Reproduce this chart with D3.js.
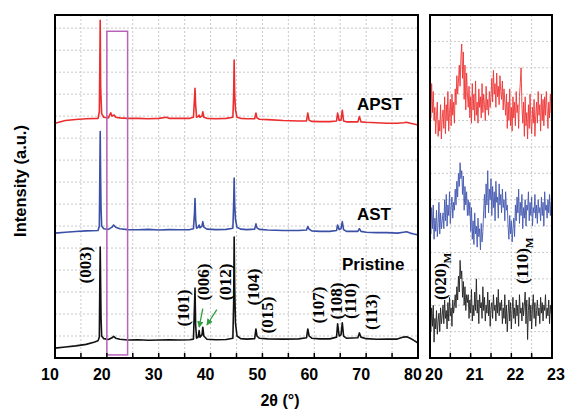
<!DOCTYPE html>
<html>
<head>
<meta charset="utf-8">
<script src="https://cdn.jsdelivr.net/npm/d3@7"></script>
<style>
  body { margin: 0; background: #fff; }
  svg { display: block; }
</style>
</head>
<body>
<div id="chart"></div>
<script>
// XRD patterns, [2theta, intensity (a.u.)]
const pristine = [[10,0.45],[12,0.5],[14,0.55],[16,0.62],[17.5,0.72],[18.3,0.78],[18.55,0.95],[18.65,3.6],[18.72,5.05],[18.8,3.4],[18.88,1.8],[19,1.0],[19.4,0.88],[20.3,0.84],[21,0.92],[21.3,0.98],[21.7,0.9],[22.5,0.85],[24,0.82],[26,0.83],[28,0.81],[30,0.82],[32,0.83],[34,0.82],[36,0.83],[36.7,0.86],[36.9,2.4],[37,3.18],[37.12,1.5],[37.3,0.9],[37.6,0.95],[37.8,1.25],[37.95,0.95],[38.35,1.05],[38.5,1.4],[38.7,1.0],[39.3,0.85],[41,0.83],[43,0.84],[44.3,0.9],[44.45,2.5],[44.55,5.5],[44.65,3.2],[44.8,1.6],[45.1,1.0],[45.8,0.88],[47,0.86],[48.5,0.88],[48.75,1.32],[48.95,1.0],[49.4,0.9],[51,0.87],[54,0.86],[57,0.87],[58.5,0.92],[58.75,1.32],[59,1.0],[59.5,0.9],[61,0.87],[63,0.87],[64.3,0.95],[64.5,1.55],[64.8,1.0],[65.15,1.05],[65.4,1.6],[65.65,1.0],[66.2,0.9],[68.4,0.92],[68.7,1.14],[69,0.95],[70,0.88],[72,0.85],[74,0.86],[76,0.86],[77.2,0.95],[77.8,0.97],[78.5,0.9],[79.2,0.8],[80,0.68]];
const ast = [[10,5.68],[12,5.72],[14,5.75],[16,5.78],[18.3,5.8],[18.55,6.0],[18.65,8.5],[18.72,10.3],[18.8,8.2],[18.88,6.8],[19,6.0],[19.4,5.88],[20.3,5.85],[21,5.95],[21.3,6.05],[21.7,5.95],[22.5,5.88],[24,5.84],[26,5.83],[28,5.85],[30,5.82],[32,5.84],[34,5.83],[36,5.84],[36.7,5.88],[36.9,6.6],[37,7.25],[37.12,6.3],[37.3,5.9],[37.6,5.95],[37.8,6.05],[37.95,5.92],[38.35,6.0],[38.5,6.2],[38.7,5.95],[39.3,5.86],[41,5.84],[43,5.85],[44.3,5.9],[44.45,7.0],[44.55,8.18],[44.65,7.0],[44.8,6.3],[45.1,5.95],[45.8,5.86],[47,5.84],[48.5,5.86],[48.75,6.1],[48.95,5.92],[49.4,5.85],[51,5.82],[54,5.8],[57,5.8],[58.5,5.82],[58.75,5.98],[59,5.86],[59.5,5.78],[61,5.76],[63,5.76],[64.3,5.8],[64.5,6.05],[64.8,5.84],[65.15,5.88],[65.4,6.2],[65.65,5.84],[66.2,5.76],[68.4,5.76],[68.7,5.88],[69,5.76],[70,5.72],[72,5.7],[74,5.7],[76,5.68],[77.2,5.72],[77.8,5.74],[78.5,5.68],[79.2,5.64],[80,5.6]];
const apst = [[10,10.68],[12,10.8],[14,10.85],[16,10.88],[18.3,10.9],[18.55,11.2],[18.65,13.5],[18.72,15.36],[18.8,12.4],[18.88,11.8],[19,11.1],[19.4,10.95],[20.3,10.92],[20.75,11.15],[21,11.0],[21.4,11.05],[21.7,10.95],[22.5,10.92],[24,10.9],[26,10.9],[28,10.88],[30,10.9],[31.5,10.95],[32,10.9],[34,10.9],[36,10.9],[36.7,10.95],[36.9,11.8],[37,12.27],[37.12,11.5],[37.3,10.95],[37.6,10.98],[37.8,11.05],[37.95,10.95],[38.35,11.0],[38.5,11.2],[38.7,10.95],[39.3,10.9],[41,10.88],[43,10.9],[44.3,10.95],[44.45,12.0],[44.55,13.55],[44.65,12.0],[44.8,11.3],[45.1,10.95],[45.8,10.9],[47,10.88],[48.5,10.88],[48.75,11.14],[48.95,10.92],[49.4,10.86],[51,10.84],[54,10.8],[57,10.78],[58.5,10.78],[58.75,11.14],[59,10.82],[59.5,10.76],[61,10.75],[63,10.75],[64.3,10.78],[64.5,11.14],[64.8,10.8],[65.15,10.82],[65.4,11.27],[65.65,10.78],[66.2,10.74],[68.4,10.74],[68.7,10.98],[69,10.74],[70,10.72],[72,10.7],[74,10.68],[76,10.68],[77.2,10.7],[77.8,10.72],[78.5,10.68],[79.2,10.64],[80,10.6]];

// zoomed region 20-23 deg, one value every 0.02 deg
const zoomStart = 20, zoomStep = 0.02;
const apstZoom = [99,91,104,93,101,90, 95,85,92,97,84,90,86,96,83,91,
  94,87,99,85,96,90,101,86,93,98,88,100,92,97,89, 102,96,107,100,105,111,103,114,119, 106,116,98,111,94,108,100,95,
  103,91,99,89,104,94,100,90,105,92,97,89,102,95,99,91,104,93,100,96,90,103,94,98,92,101,95,99,
  106,97,109,100,104,95,108,99,103,96,107,101,98,105,94,102,97,
  92,100,87,97,90,102,88,95,86,99,91,97,88,101,93,96,87,99, 104,110,96,
  89,97,84,99,88,93,83,96,87,100,90,85,95,89,98,84,92,
  97,89,101,92,96,86,100,90,98,88,99,92,101,94,87,97,91,100,93,96];
const astZoom = [54,47,57,49,58,45,53,48,56,46,51,59,47,55,49,52,
  55,49,60,52,62,50,58,54,63,51,57,61,53,59,56, 64,58,67,61,70,65,74,68,71, 62,69,56,65,58,63,54,60,
  54,59,48,57,45,52,43,55,47,50,42,53,46,49,41,51,44,48,
  56,62,53,66,58,71,55,64,60,68,54,65,57,63,52,67,59,61,53,66,58,62,55,64,57,60,52,63,56,58,
  50,45,54,47,52,44,49,53,46,
  58,52,61,55,64,51,59,54,62,49,57,53,60,50,58,56,63,52,59,54,61,50,57,55,62,53,58,51,60,55,
  57,52,61,54,59,50,63,56,58,53,60,55,62,54,59,57];
const pristineZoom = [16,10,19,12,20,6,15,11,18,9,14,17,10,19,13,16,
  20,13,22,15,18,11,21,14,23,16,19,12,22,17,20, 24,19,27,22,31,25,37,30, 33,23,29,20,27,18,24,21,
  24,15,22,17,26,14,20,16,25,18, 30,17,22,13,24,19,21,15,27,18, 23,14,20,17,25,16,22,12,19,21,
  15,24,18,20,14,23,17,26,16,21, 18,22,13,19,15,24,13,20,10,17, 22,14,21,11,18,23,15,19,13,22,
  16,20,12,24,17,19,14,21,16,20, 25,13,22,7,18,23,14,20,11,19, 24,15,21,12,18,22,16,19,13,23,
  17,21,14,20,18,24,15,19,16,22, 13,20,17,19];

const leftTicks = [10, 20, 30, 40, 50, 60, 70, 80];
const rightTicks = [20, 21, 22, 23];
const peakLabels = [
  { hkl: "(003)", x: 85, y: 265 }, { hkl: "(101)", x: 183, y: 308 }, { hkl: "(006)", x: 203, y: 282 },
  { hkl: "(012)", x: 225, y: 282 }, { hkl: "(104)", x: 253, y: 287 }, { hkl: "(015)", x: 267, y: 315 },
  { hkl: "(107)", x: 318, y: 305 }, { hkl: "(108)", x: 336, y: 301 }, { hkl: "(110)", x: 350, y: 301 },
  { hkl: "(113)", x: 371, y: 312 }
];

const width = 565, height = 411;
const svg = d3.select("#chart").append("svg")
  .attr("width", width).attr("height", height)
  .style("font-family", "'Liberation Sans', Arial, sans-serif");

const plotTop = 15, plotBottom = 358;

// left panel scales
const x = d3.scaleLinear().domain([10, 80]).range([55, 418]);
const y = d3.scaleLinear().domain([0, 15.6]).range([plotBottom, plotTop]);
// right panel scales
const x2 = d3.scaleLinear().domain([20, 23]).range([430, 552]);
const y2 = d3.scaleLinear().domain([0, 130]).range([plotBottom, plotTop]);

const grid = "#c9c9c9";

// grids
function drawGrid(g, xs, ys, xv, yv) {
  g.selectAll(".vg").data(xv).join("line").attr("class", "vg")
    .attr("x1", d => xs(d)).attr("x2", d => xs(d))
    .attr("y1", plotTop).attr("y2", plotBottom)
    .attr("stroke", grid).attr("stroke-width", 1).attr("stroke-dasharray", "2,2");
  g.selectAll(".hg").data(yv).join("line").attr("class", "hg")
    .attr("x1", xs.range()[0]).attr("x2", xs.range()[1])
    .attr("y1", d => ys(d)).attr("y2", d => ys(d))
    .attr("stroke", grid).attr("stroke-width", 1).attr("stroke-dasharray", "2,2");
}
drawGrid(svg.append("g"), x, y, d3.range(15, 80, 5), d3.range(1, 16));
drawGrid(svg.append("g"), x2, y2, d3.range(20.5, 23, 0.5), d3.range(10, 130, 10));

// left patterns
const line = d3.line().x(d => x(d[0])).y(d => y(d[1]));
[[pristine, "#111"], [ast, "#3b4fa6"], [apst, "#ec2d2d"]].forEach(([data, c]) => {
  svg.append("path").datum(data)
    .attr("d", line).attr("fill", "none").attr("stroke", c)
    .attr("stroke-width", 1.6).attr("stroke-linejoin", "round");
});

// right zoomed patterns
const line2 = d3.line().x((d, i) => x2(zoomStart + i * zoomStep)).y(d => y2(d));
[[pristineZoom, "#222"], [astZoom, "#4458b0"], [apstZoom, "#ee3535"]].forEach(([data, c]) => {
  svg.append("path").datum(data)
    .attr("d", line2).attr("fill", "none").attr("stroke", c)
    .attr("stroke-width", 0.9).attr("stroke-linejoin", "round");
});

// pink box marking the zoomed range
svg.append("rect")
  .attr("x", x(20)).attr("y", y(14.86))
  .attr("width", x(24) - x(20)).attr("height", y(0.14) - y(14.86))
  .attr("fill", "none").attr("stroke", "#b763b7").attr("stroke-width", 1.5);

// ticks (inward)
svg.append("g").selectAll("line").data(d3.range(15, 80, 5)).join("line")
  .attr("x1", d => x(d)).attr("x2", d => x(d)).attr("y1", plotBottom).attr("y2", plotBottom - 5)
  .attr("stroke", "#000").attr("stroke-width", 1.5);
svg.append("g").selectAll("line").data(d3.range(20.5, 23, 0.5)).join("line")
  .attr("x1", d => x2(d)).attr("x2", d => x2(d)).attr("y1", plotBottom).attr("y2", plotBottom - 5)
  .attr("stroke", "#000").attr("stroke-width", 1.5);

// frames
[x, x2].forEach(s => {
  svg.append("rect").attr("x", s.range()[0]).attr("y", plotTop)
    .attr("width", s.range()[1] - s.range()[0]).attr("height", plotBottom - plotTop)
    .attr("fill", "none").attr("stroke", "#000").attr("stroke-width", 2);
});

// tick labels
svg.append("g").selectAll("text").data(leftTicks).join("text")
  .attr("x", d => x(d) - 5).attr("y", 380).attr("text-anchor", "middle")
  .style("font-size", "16px").style("font-weight", "bold").text(d => d);
svg.append("g").selectAll("text").data(rightTicks).join("text")
  .attr("x", d => x2(d) + 4).attr("y", 380).attr("text-anchor", "middle")
  .style("font-size", "16px").style("font-weight", "bold").text(d => d);

// axis titles
svg.append("text").attr("x", 280).attr("y", 406).attr("text-anchor", "middle")
  .style("font-size", "16px").style("font-weight", "bold").text("2θ (°)");
svg.append("text").attr("transform", "translate(26,181) rotate(-90)").attr("text-anchor", "middle")
  .style("font-size", "16.5px").style("font-weight", "bold").text("Intensity (a.u.)");

// series names
[["APST", 357, 110], ["AST", 357, 220], ["Pristine", 342, 270]].forEach(([t, tx, ty]) => {
  svg.append("text").attr("x", tx).attr("y", ty)
    .style("font-size", "17px").style("font-weight", "bold").text(t);
});

// hkl labels
svg.append("g").selectAll("text").data(peakLabels).join("text")
  .attr("transform", d => `translate(${d.x},${d.y}) rotate(-90)`)
  .attr("text-anchor", "middle").attr("dy", "0.35em")
  .style("font-family", "'Liberation Serif', 'Times New Roman', serif")
  .style("font-size", "17px").style("font-weight", "bold").text(d => d.hkl);

// monoclinic (M) labels in zoomed panel
[["(020)", 446, 300], ["(110)", 528, 284]].forEach(([t, tx, ty]) => {
  const tt = svg.append("text").attr("transform", `translate(${tx},${ty}) rotate(-90)`)
    .style("font-family", "'Liberation Serif', 'Times New Roman', serif")
    .style("font-size", "17px").style("font-weight", "bold");
  tt.append("tspan").text(t);
  tt.append("tspan").attr("dy", "5").style("font-size", "11px").text("M");
});

// green arrows to the weak (006)/(012) reflections
const defs = svg.append("defs");
defs.append("marker").attr("id", "arr").attr("viewBox", "0 0 10 10")
  .attr("refX", 9).attr("refY", 5).attr("markerWidth", 5).attr("markerHeight", 5)
  .attr("orient", "auto")
  .append("path").attr("d", "M0,0L10,5L0,10z").attr("fill", "#2e9e3e");
[[37.8, 1.4, 38.5, 2.25], [39.3, 1.5, 41.2, 2.2]].forEach(([tx, ty, fx, fy]) => {
  svg.append("line")
    .attr("x1", x(fx)).attr("y1", y(fy)).attr("x2", x(tx)).attr("y2", y(ty))
    .attr("stroke", "#2e9e3e").attr("stroke-width", 1.3).attr("marker-end", "url(#arr)");
});
</script>
</body>
</html>
